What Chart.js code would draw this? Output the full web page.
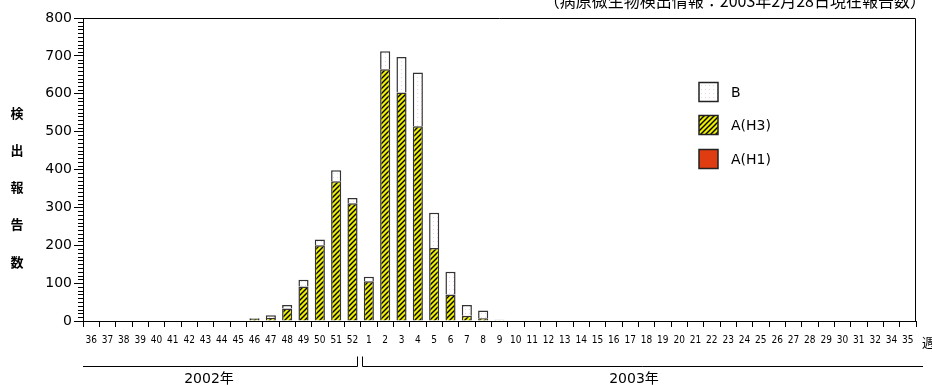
<!DOCTYPE html>
<html>
<head>
<meta charset="utf-8">
<script src="https://cdn.jsdelivr.net/npm/chart.js@4.4.1/dist/chart.umd.min.js"></script>
<style>
  html, body { margin: 0; padding: 0; background: #fff; }
  canvas { display: block; }
</style>
</head>
<body>
<canvas id="chart" width="932" height="385"></canvas>
<script>
// 週ラベル（2002年36週〜2003年35週）
const weeks = ['36','37','38','39','40','41','42','43','44','45','46','47','48','49','50','51','52',
  '1','2','3','4','5','6','7','8','9','10','11','12','13','14','15','16','17','18','19','20',
  '21','22','23','24','25','26','27','28','29','30','31','32','34','35'];

// 検出報告数
const valuesH1 = [0,0,0,0,0,0,0,0,0,0,0,0,0,0,0,0,0,
  0,0,0,0,0,0,0,0,0,0,0,0,0,0,0,0,0,0,0,0,0,0,0,0,0,0,0,0,0,0,0,0,0,0];
const valuesH3 = [0,0,0,0,0,0,0,0,0,0,5,8,33,91,200,369,311,
  105,665,603,514,193,70,14,7,2,0,0,0,0,0,0,0,0,0,0,0,0,0,0,0,0,0,0,0,0,0,0,0,0,0];
const valuesB = [0,0,0,0,0,0,0,0,0,0,2,7,9,18,15,29,14,
  12,47,94,142,93,60,28,21,1,0,0,0,0,0,0,0,0,0,0,0,0,0,0,0,0,0,0,0,0,0,0,0,0,0];

const yTicks = [0,100,200,300,400,500,600,700,800];
const yearLabels = ['2002年', '2003年'];
const legendNames = ['B', 'A(H3)', 'A(H1)'];
const yTitle = ['検','出','報','告','数'];
const titleText = '（病原微生物検出情報：2003年2月28日現在報告数）';

// 斜線パターン（A(H3)）
function hatchPattern() {
  const n = 5;
  const c = document.createElement('canvas');
  c.width = n; c.height = n;
  const g = c.getContext('2d');
  g.fillStyle = '#eeee00';
  g.fillRect(0, 0, n, n);
  g.strokeStyle = '#000';
  g.lineWidth = 1.4;
  g.beginPath();
  g.moveTo(0, n); g.lineTo(n, 0);
  g.moveTo(-n, n); g.lineTo(n, -n);
  g.moveTo(0, 2 * n); g.lineTo(2 * n, 0);
  g.stroke();
  return g.createPattern(c, 'repeat');
}

// 点描パターン（B）
function dotPattern() {
  const c = document.createElement('canvas');
  c.width = 4; c.height = 4;
  const g = c.getContext('2d');
  g.fillStyle = '#fff';
  g.fillRect(0, 0, 4, 4);
  g.fillStyle = '#ecd4ec';
  g.fillRect(1, 1, 1, 1);
  return g.createPattern(c, 'repeat');
}

const fillH3 = hatchPattern();
const fillB = dotPattern();
const fillH1 = '#e03c12';

// 枠線・副目盛・年の区切り・凡例など
const decor = {
  id: 'decor',
  afterDraw(chart) {
    const ctx = chart.ctx;
    const a = chart.chartArea;
    const x = chart.scales.x;
    const y = chart.scales.y;
    ctx.save();
    ctx.strokeStyle = '#000';
    ctx.lineWidth = 1;

    // 上と右の枠
    ctx.beginPath();
    ctx.moveTo(a.left, a.top + 0.5);
    ctx.lineTo(a.right - 0.5, a.top + 0.5);
    ctx.lineTo(a.right - 0.5, a.bottom);
    ctx.stroke();

    // 副目盛
    ctx.beginPath();
    for (let v = 0; v <= 800; v += 10) {
      if (v % 100 === 0) continue;
      const py = Math.round(y.getPixelForValue(v)) + 0.5;
      ctx.moveTo(a.left - 5, py);
      ctx.lineTo(a.left, py);
    }
    ctx.stroke();

    // 年の区切り
    const split = (x.getPixelForValue(16) + x.getPixelForValue(17)) / 2;
    const by = 366.5;
    ctx.beginPath();
    ctx.moveTo(a.left, by);
    ctx.lineTo(Math.round(split - 4) + 0.5, by);
    ctx.lineTo(Math.round(split - 4) + 0.5, by - 10);
    ctx.moveTo(Math.round(split + 1) + 0.5, by - 10);
    ctx.lineTo(Math.round(split + 1) + 0.5, by);
    ctx.lineTo(923, by);
    ctx.stroke();

    ctx.fillStyle = '#000';
    ctx.font = '14px "DejaVu Sans", "Noto Sans CJK JP"';
    ctx.textAlign = 'center';
    ctx.textBaseline = 'alphabetic';
    ctx.fillText(yearLabels[0], 209, 383);
    ctx.fillText(yearLabels[1], 634, 383);

    // 週
    ctx.font = '13px "Noto Sans CJK JP"';
    ctx.textAlign = 'left';
    ctx.textBaseline = 'middle';
    ctx.fillText('週', 922, 342);

    // タイトル
    ctx.font = '16px "Noto Sans CJK JP"';
    ctx.textAlign = 'right';
    ctx.textBaseline = 'alphabetic';
    ctx.fillText(titleText, 926, 7);

    // 縦軸タイトル
    ctx.font = 'bold 13px "Noto Sans CJK JP"';
    ctx.textAlign = 'center';
    ctx.textBaseline = 'middle';
    const ty = [113, 150, 187, 224, 262];
    yTitle.forEach((ch, i) => ctx.fillText(ch, 17, ty[i]));

    // 凡例
    const fills = [fillB, fillH3, fillH1];
    const ly = [92, 125, 159];
    ctx.font = '14px "DejaVu Sans"';
    ctx.textAlign = 'left';
    legendNames.forEach((name, i) => {
      const top = ly[i] - 9.5;
      ctx.fillStyle = fills[i];
      ctx.fillRect(699, top, 19, 19);
      ctx.strokeStyle = '#222';
      ctx.lineWidth = 1.5;
      ctx.strokeRect(699, top, 19, 19);
      ctx.fillStyle = '#000';
      ctx.fillText(name, 731, ly[i] + 1);
    });
    ctx.restore();
  }
};

new Chart(document.getElementById('chart'), {
  type: 'bar',
  data: {
    labels: weeks,
    datasets: [
      { label: 'A(H1)', data: valuesH1, backgroundColor: fillH1, borderColor: '#333', borderWidth: 1.5 },
      { label: 'A(H3)', data: valuesH3, backgroundColor: fillH3, borderColor: '#333', borderWidth: 1.5 },
      { label: 'B', data: valuesB, backgroundColor: fillB, borderColor: '#333', borderWidth: 1.5 }
    ]
  },
  options: {
    responsive: false,
    animation: false,
    devicePixelRatio: 1,
    layout: { padding: { left: 0, top: 18, right: 16, bottom: 0 } },
    datasets: { bar: { barPercentage: 0.62, categoryPercentage: 1 } },
    plugins: {
      legend: { display: false },
      tooltip: { enabled: false }
    },
    scales: {
      x: {
        stacked: true,
        afterFit: s => { s.height = 64; },
        grid: { offset: true, drawOnChartArea: false, tickLength: 6, color: '#000' },
        border: { color: '#000', width: 1 },
        ticks: {
          autoSkip: false, maxRotation: 0, minRotation: 0, padding: 7, color: '#000',
          font: { family: '"Liberation Sans Narrow", "DejaVu Sans Condensed", sans-serif', size: 10 }
        }
      },
      y: {
        stacked: true,
        min: 0,
        max: 800,
        afterFit: s => { s.width = 83; },
        afterBuildTicks: s => { s.ticks = yTicks.map(v => ({ value: v })); },
        grid: { drawOnChartArea: false, tickLength: 9, color: '#000' },
        border: { color: '#000', width: 1 },
        ticks: {
          padding: 2, color: '#000',
          font: { family: '"DejaVu Sans"', size: 14 }
        }
      }
    }
  },
  plugins: [decor]
});
</script>
</body>
</html>
